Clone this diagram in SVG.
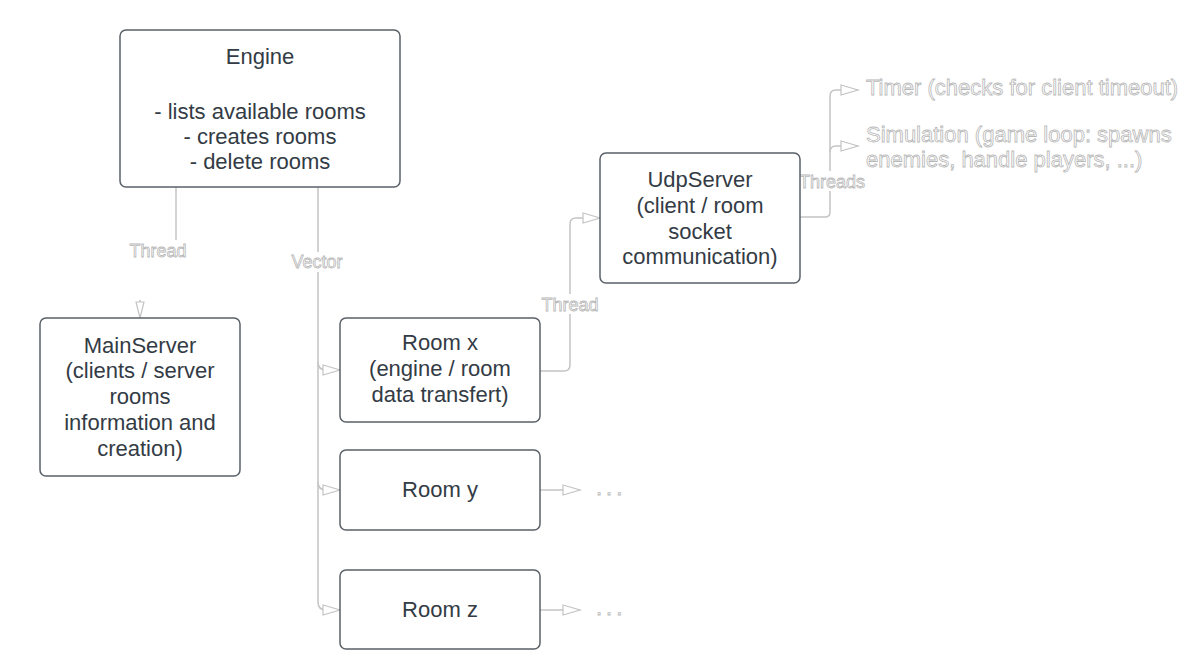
<svg xmlns="http://www.w3.org/2000/svg" width="1194" height="650" viewBox="0 0 1194 650">
<style>
.box{fill:#ffffff;stroke:#5a6068;stroke-width:1.5}
.t{font-family:"Liberation Sans",Arial,sans-serif;font-size:22px;fill:#333b45;text-anchor:middle}
.o{font-family:"Liberation Sans",Arial,sans-serif;fill:#ffffff;stroke:#b8b8b8;stroke-width:0.8}
.lbl{font-size:18px;text-anchor:middle}
.big{font-size:22px}
.c{fill:none;stroke:#c4c4c4;stroke-width:1.5}
.bg{fill:#ffffff}
</style>
<defs>
<marker id="ah" markerUnits="userSpaceOnUse" markerWidth="20" markerHeight="14" refX="18" refY="6" orient="auto" overflow="visible">
<path d="M1,1 L18,6 L1,11 Z" fill="#ffffff" stroke="#c4c4c4" stroke-width="1.2"/>
</marker>
<marker id="ahd" markerUnits="userSpaceOnUse" markerWidth="20" markerHeight="12" refX="17" refY="5" orient="auto" overflow="visible">
<path d="M1,1 L17,5 L1,9 Z" fill="#ffffff" stroke="#c4c4c4" stroke-width="1.2"/>
</marker>
</defs>
<rect width="1194" height="650" fill="#ffffff"/>
<g id="connectors">
<path class="c" d="M176,187 V243"/>
<path class="c" d="M140,300 V318" marker-end="url(#ahd)"/>
<path class="c" d="M318,187 V602 Q318,610 326,610 H340" marker-end="url(#ah)"/>
<path class="c" d="M318,362 Q318,370 326,370 H340" marker-end="url(#ah)"/>
<path class="c" d="M318,482 Q318,490 326,490 H340" marker-end="url(#ah)"/>
<path class="c" d="M540,371 H564 Q570,371 570,365 V224 Q570,218 576,218 H600" marker-end="url(#ah)"/>
<path class="c" d="M800,217 H825 Q830,217 830,212 V96 Q830,90 836,90 H858" marker-end="url(#ah)"/>
<path class="c" d="M830,152 Q830,146 836,146 H858" marker-end="url(#ah)"/>
<path class="c" d="M540,490 H580" marker-end="url(#ah)"/>
<path class="c" d="M540,610 H580" marker-end="url(#ah)"/>
<rect class="bg" x="126" y="240" width="64" height="20"/>
<text class="o lbl" x="158" y="257">Thread</text>
<rect class="bg" x="288" y="252" width="60" height="20"/>
<text class="o lbl" x="317" y="268">Vector</text>
<rect class="bg" x="538" y="294" width="64" height="20"/>
<text class="o lbl" x="570" y="311">Thread</text>
<rect class="bg" x="798" y="171" width="68" height="20"/>
<text class="o lbl" x="832" y="188">Threads</text>
<text class="o big" x="596" y="495" letter-spacing="4">...</text>
<text class="o big" x="596" y="615" letter-spacing="4">...</text>
</g>
<g id="engine">
<rect class="box" x="120" y="30" width="280" height="157" rx="6"/>
<text class="t" x="260" y="64">Engine</text>
<text class="t" x="260" y="119">- lists available rooms</text>
<text class="t" x="260" y="144">- creates rooms</text>
<text class="t" x="260" y="169">- delete rooms</text>
</g>
<g id="mainserver">
<rect class="box" x="40" y="318" width="200" height="158" rx="6"/>
<text class="t" x="140" y="353">MainServer</text>
<text class="t" x="140" y="378">(clients / server</text>
<text class="t" x="140" y="404">rooms</text>
<text class="t" x="140" y="430">information and</text>
<text class="t" x="140" y="456">creation)</text>
</g>
<g id="roomx">
<rect class="box" x="340" y="318" width="200" height="104" rx="6"/>
<text class="t" x="440" y="350">Room x</text>
<text class="t" x="440" y="376">(engine / room</text>
<text class="t" x="440" y="402">data transfert)</text>
</g>
<g id="roomy">
<rect class="box" x="340" y="450" width="200" height="80" rx="6"/>
<text class="t" x="440" y="497">Room y</text>
</g>
<g id="roomz">
<rect class="box" x="340" y="570" width="200" height="79" rx="6"/>
<text class="t" x="440" y="617">Room z</text>
</g>
<g id="udpserver">
<rect class="box" x="600" y="153" width="200" height="130" rx="6"/>
<text class="t" x="700" y="187">UdpServer</text>
<text class="t" x="700" y="213">(client / room</text>
<text class="t" x="700" y="239">socket</text>
<text class="t" x="700" y="264">communication)</text>
</g>
<g id="timer">
<text class="o big" x="866" y="95">Timer (checks for client timeout)</text>
</g>
<g id="simulation">
<text class="o big" x="866" y="142">Simulation (game loop: spawns</text>
<text class="o big" x="866" y="167">enemies, handle players, ...)</text>
</g>
</svg>
